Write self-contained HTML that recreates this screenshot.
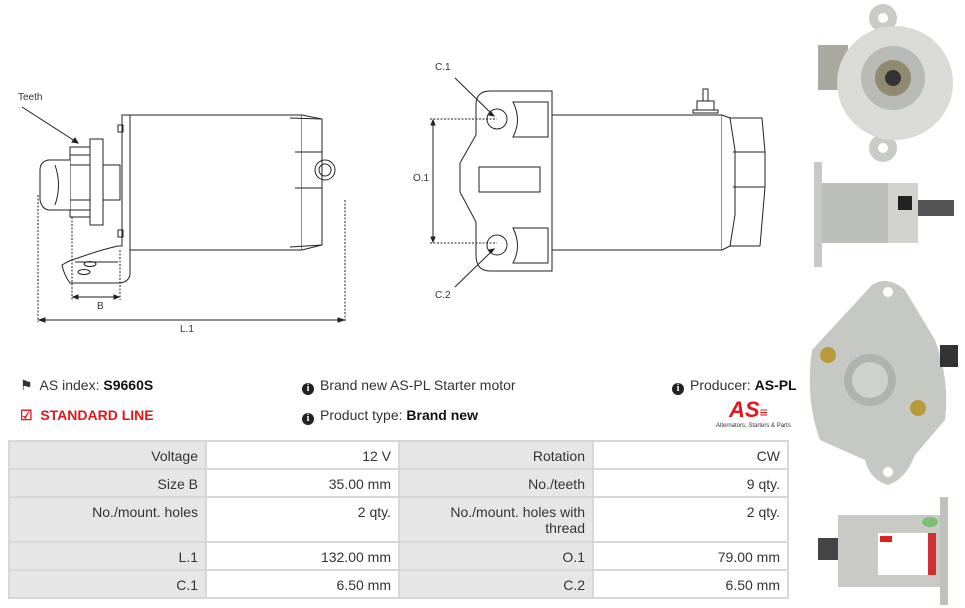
<!DOCTYPE html>
<html><head><meta charset="utf-8"><style>
body{margin:0;width:965px;height:608px;background:#fff;font-family:"Liberation Sans",sans-serif;position:relative;overflow:hidden}
.t{position:absolute;font-size:14px;color:#333;white-space:nowrap}
b{color:#111}
table{position:absolute;left:8px;top:440px;border-collapse:collapse;width:781px;font-size:14px;color:#333}
td{border:2px solid #d8d8d8;text-align:right;padding:6px 7px 0 4px;vertical-align:top;height:20px}
td.l{background:#e6e6e6}
.i{display:inline-block;width:12px;height:12px;border-radius:50%;background:#222;color:#fff;font-size:10px;line-height:12px;text-align:center;font-weight:bold;font-family:"Liberation Serif",serif;margin-right:6px;vertical-align:-1px}
</style></head><body>
<svg width="965" height="608" style="position:absolute;left:0;top:0" fill="none" stroke="#222" stroke-width="1">
<rect x="130" y="115" width="172" height="135" fill="#fff"/>
<path d="M122 115 L130 115 L130 275 Q128 283 118 283 L70 283 Q64 275 62 265 Q70 260 78 258 Q100 250 118 246 L122 246 Z" fill="#fff"/>
<path d="M302 115 L322 119 L322 245 L302 250" fill="#fff"/>
<path d="M290 118 L322 119 M295 152 L322 152 M295 188 L322 188 M290 247 L322 245"/>
<circle cx="325" cy="170" r="10"/><circle cx="325" cy="170" r="6"/>
<rect x="118" y="125" width="5" height="7"/><rect x="118" y="230" width="5" height="7"/>
<rect x="70" y="147" width="22" height="70" fill="#fff"/>
<line x1="70" y1="155" x2="92" y2="155"/><line x1="70" y1="165" x2="92" y2="165"/><line x1="70" y1="200" x2="92" y2="200"/><line x1="70" y1="210" x2="92" y2="210"/>
<rect x="90" y="139" width="13" height="86" fill="#fff"/>
<rect x="103" y="165" width="17" height="35"/>
<path d="M70 160 L48 160 Q40 162 40 170 L40 200 Q42 210 50 210 L70 210" fill="#fff"/>
<path d="M55 165 Q62 185 55 205"/>
<ellipse cx="90" cy="264" rx="6" ry="2.5"/><ellipse cx="84" cy="272" rx="6" ry="2.5"/>
<path d="M75 262 L118 262"/>
<line x1="22" y1="107" x2="78" y2="143"/><path d="M78 143 l-6 -1 l3 -4 z" fill="#222"/>
<g stroke-dasharray="2 1.5"><line x1="72" y1="217" x2="72" y2="300"/><line x1="120" y1="250" x2="120" y2="300"/><line x1="38" y1="195" x2="38" y2="322"/><line x1="345" y1="200" x2="345" y2="322"/></g>
<line x1="73" y1="297" x2="119" y2="297"/><path d="M73 297 l5 -2 v4z M119 297 l-5 -2 v4z" fill="#222"/>
<line x1="39" y1="320" x2="344" y2="320"/><path d="M39 320 l6 -2 v4z M344 320 l-6 -2 v4z" fill="#222"/>
<rect x="552" y="115" width="170" height="135" fill="#fff"/>
<path d="M722 115 L730 118 L762 118 L765 152 L765 187 L760 246 L730 246 L722 250" fill="#fff"/>
<path d="M730 118 L735 150 L735 215 L730 246 M733 152 L765 152 M733 187 L765 187"/>
<path d="M693 113 h25 v-3 h-25 z M697 110 v-9 h17 v9 M703 101 v-12 h5 v12"/>
<path d="M490 91 L552 91 L552 271 L490 271 Q476 271 476 255 L476 222 L460 192 L460 163 L476 135 L476 105 Q476 91 490 91 Z" fill="#fff"/>
<circle cx="497" cy="119" r="10"/><circle cx="497" cy="245" r="10"/>
<path d="M513 102 L548 102 L548 137 L513 137 Q522 120 513 102 Z M513 228 L548 228 L548 263 L513 263 Q522 246 513 228 Z"/>
<rect x="479" y="167" width="61" height="25"/>
<g stroke-dasharray="2 1.5"><line x1="430" y1="119" x2="497" y2="119"/><line x1="430" y1="243" x2="497" y2="243"/></g>
<line x1="433" y1="120" x2="433" y2="242"/><path d="M433 120 l-2 5 h4z M433 242 l-2 -5 h4z" fill="#222"/>
<line x1="455" y1="78" x2="494" y2="116"/><path d="M494 116 l-5 -1 l2 -3z" fill="#222"/>
<line x1="455" y1="287" x2="494" y2="249"/><path d="M494 249 l-5 1 l2 3z" fill="#222"/>
<g stroke="none">
<circle cx="883" cy="18" r="14" fill="#c9cbc6"/><circle cx="883" cy="148" r="14" fill="#c9cbc6"/>
<circle cx="883" cy="18" r="5" fill="#fff"/><circle cx="883" cy="148" r="5" fill="#fff"/>
<rect x="818" y="45" width="30" height="45" fill="#a9a9a0"/>
<ellipse cx="895" cy="83" rx="58" ry="57" fill="#dadbd6"/>
<circle cx="893" cy="78" r="32" fill="#b8bab5"/><circle cx="893" cy="78" r="18" fill="#8f8a70"/><circle cx="893" cy="78" r="8" fill="#333"/>
<rect x="814" y="162" width="8" height="105" fill="#c8c9c4"/>
<rect x="822" y="183" width="70" height="60" fill="#bdbfba"/>
<rect x="888" y="183" width="30" height="60" fill="#d2d3ce"/>
<rect x="918" y="200" width="36" height="16" fill="#555"/>
<rect x="898" y="196" width="14" height="14" fill="#222"/>
<path d="M872 285 Q888 275 905 290 L935 340 Q950 380 945 420 L915 455 Q905 480 888 485 Q870 480 865 460 L820 440 Q805 400 812 350 Z" fill="#c6c8c4"/>
<circle cx="870" cy="380" r="26" fill="#aeb3b0"/><circle cx="870" cy="380" r="18" fill="#cfd1cd"/>
<circle cx="888" cy="292" r="5" fill="#fff"/><circle cx="888" cy="472" r="5" fill="#fff"/>
<circle cx="828" cy="355" r="8" fill="#b89a3a"/><circle cx="918" cy="408" r="8" fill="#b89a3a"/>
<rect x="940" y="345" width="18" height="22" fill="#333"/>
<rect x="818" y="538" width="22" height="22" fill="#444"/>
<rect x="838" y="515" width="104" height="72" fill="#c9cac6"/>
<rect x="878" y="533" width="58" height="42" fill="#fff"/>
<rect x="880" y="536" width="12" height="6" fill="#e02020"/>
<rect x="928" y="533" width="8" height="42" fill="#d03030"/>
<ellipse cx="930" cy="522" rx="8" ry="5" fill="#7ac070"/>
<rect x="940" y="497" width="8" height="108" fill="#c0c1bc"/>
</g>
</svg>
<div class="t" style="left:18px;top:92px;font-size:10px">Teeth</div>
<div class="t" style="left:97px;top:301px;font-size:10px">B</div>
<div class="t" style="left:180px;top:324px;font-size:10px">L.1</div>
<div class="t" style="left:435px;top:62px;font-size:10px">C.1</div>
<div class="t" style="left:413px;top:173px;font-size:10px">O.1</div>
<div class="t" style="left:435px;top:290px;font-size:10px">C.2</div>
<div class="t" style="left:20px;top:377px">&#9873;&nbsp; AS index: <b>S9660S</b></div>
<div class="t" style="left:20px;top:407px;color:#e8141b;font-weight:bold">&#9745;&nbsp; STANDARD LINE</div>
<div class="t" style="left:302px;top:377px"><span class="i">i</span>Brand new AS-PL Starter motor</div>
<div class="t" style="left:302px;top:407px"><span class="i">i</span>Product type: <b>Brand new</b></div>
<div class="t" style="left:672px;top:377px"><span class="i">i</span>Producer: <b>AS-PL</b></div>
<div class="t" style="left:729px;top:397px;color:#e8141b;font-weight:bold;font-style:italic;font-size:22px">AS<span style="font-size:14px">&#8801;</span></div>
<div class="t" style="left:716px;top:423px;font-size:6px">Alternators, Starters &amp; Parts</div>
<table>
<tr><td class="l" style="width:184px">Voltage</td><td style="width:180px">12 V</td><td class="l" style="width:181px">Rotation</td><td>CW</td></tr>
<tr><td class="l">Size B</td><td>35.00 mm</td><td class="l">No./teeth</td><td>9 qty.</td></tr>
<tr><td class="l" style="height:37px">No./mount. holes</td><td>2 qty.</td><td class="l" style="line-height:16px">No./mount. holes with<br>thread</td><td>2 qty.</td></tr>
<tr><td class="l">L.1</td><td>132.00 mm</td><td class="l">O.1</td><td>79.00 mm</td></tr>
<tr><td class="l">C.1</td><td>6.50 mm</td><td class="l">C.2</td><td>6.50 mm</td></tr>
</table>
</body></html>
